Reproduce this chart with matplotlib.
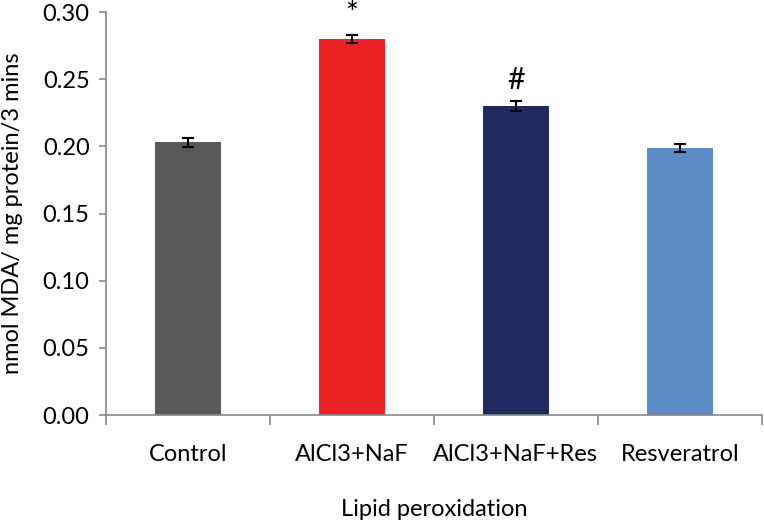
import matplotlib
matplotlib.use('Agg')
import matplotlib.pyplot as plt
import numpy as np

### Dados

categories = ['Control', 'AlCl3+NaF', 'AlCl3+NaF+Res', 'Resveratrol']
values = [0.203, 0.280, 0.230, 0.199]
errors = [0.0035, 0.0030, 0.0040, 0.0030]
marks = ['', '*', '#', '']
colors = ['#595959', '#ED2224', '#202A5E', '#5B8CC8']

plt.rcParams['font.family'] = ['Lato', 'DejaVu Sans']

fig = plt.figure(figsize=(7.64, 5.25), dpi=100)
ax = fig.add_axes([0.139, 0.2095, 0.858, 0.7675])

x = np.arange(len(categories))
ax.bar(x, values, width=0.4, color=colors, zorder=2)
ax.errorbar(x, values, yerr=errors, fmt='none', ecolor='black',
            elinewidth=1.5, capsize=4, capthick=1.5, zorder=3)

# Marcas de significância (acima da barra de erro)
for xi, v, e, m in zip(x, values, errors, marks):
    if m:
        ax.text(xi, v + e + 0.026, m, ha='center', va='top',
                fontsize=22, clip_on=False)

ax.set_xlim(-0.5, len(categories) - 0.5)
ax.set_ylim(0, 0.30)
yt = np.arange(0, 0.301, 0.05)
ax.set_yticks(yt)
ax.set_yticklabels([f'{t:.2f}' for t in yt])

ax.set_xticks(x)
ax.set_xticklabels(categories)
ax.set_xticks(np.arange(-0.5, len(categories), 1.0), minor=True)
ax.tick_params(axis='x', which='major', length=0, pad=21, labelsize=17)
ax.tick_params(axis='x', which='minor', length=7, color='#888888', width=1.2)
ax.tick_params(axis='y', length=5, color='#888888', width=1.2, labelsize=17, pad=7)

for s in ['top', 'right']:
    ax.spines[s].set_visible(False)
for s in ['left', 'bottom']:
    ax.spines[s].set_color('#888888')
    ax.spines[s].set_linewidth(1.2)

ax.set_xlabel('Lipid peroxidation', fontsize=17, labelpad=24)
ax.set_ylabel('nmol MDA/ mg protein/3 mins', fontsize=17, labelpad=14)

fig.savefig('out.png', dpi=100)
